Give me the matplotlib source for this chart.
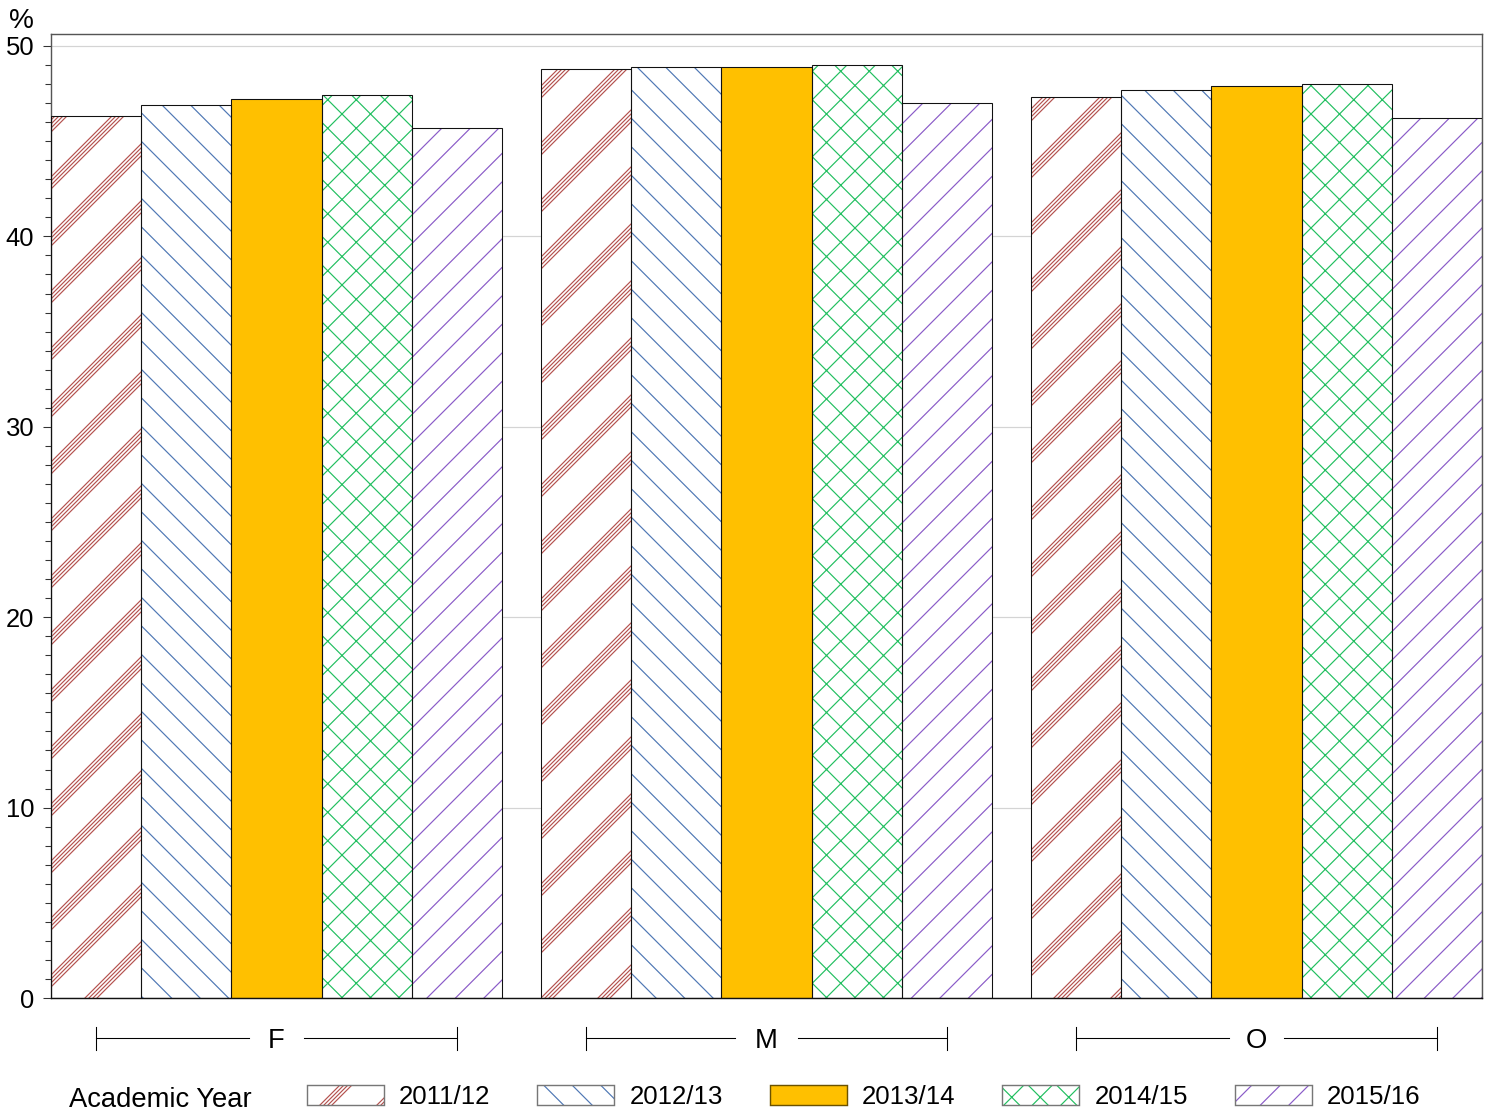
import warnings
warnings.filterwarnings("ignore")
import numpy as np
import matplotlib
matplotlib.use("Agg")
import matplotlib.pyplot as plt
import matplotlib.hatch as mhatch
from matplotlib.path import Path
from matplotlib.patches import Patch
from matplotlib.legend_handler import HandlerTuple
from matplotlib.transforms import blended_transform_factory
from matplotlib import font_manager

# ---------------- data ----------------
groups = ["F", "M", "O"]
years = ["2011/12", "2012/13", "2013/14", "2014/15", "2015/16"]
v2011_12 = [46.3, 48.8, 47.3]
v2012_13 = [46.9, 48.9, 47.7]
v2013_14 = [47.2, 48.9, 47.9]
v2014_15 = [47.4, 49.0, 48.0]
v2015_16 = [45.7, 47.0, 46.2]
series = [v2011_12, v2012_13, v2013_14, v2014_15, v2015_16]
y_ticks = [0, 10, 20, 30, 40, 50]

DPI = 171


# custom hatch: bands of 4 thin diagonal lines
class BandHatch(mhatch.HatchPatternBase):
    def __init__(self, hatch, density):
        n = hatch.count("r")
        self.cs = []
        if n:
            nb = 3 * n
            offs = [0, 4 / DPI, 8 / DPI, 12 / DPI]
            for j in range(-nb, 2 * nb):
                for o in offs:
                    self.cs.append(j / nb + o)
        self.num_vertices = 2 * len(self.cs)

    def set_vertices_and_codes(self, vertices, codes):
        cs = np.array(self.cs)
        vertices[0::2, 0] = -0.5
        vertices[0::2, 1] = -0.5 - cs
        vertices[1::2, 0] = 1.5
        vertices[1::2, 1] = 1.5 - cs
        codes[0::2] = Path.MOVETO
        codes[1::2] = Path.LINETO


mhatch._hatch_types.append(BandHatch)

plt.rcParams["hatch.linewidth"] = 0.5

names = {f.name for f in font_manager.fontManager.ttflist}
narrow = "Liberation Sans Narrow" if "Liberation Sans Narrow" in names else "Liberation Sans"
big = 13 if narrow == "Liberation Sans Narrow" else 11.5
leg_size = 13 if narrow == "Liberation Sans Narrow" else 10.9
regular = "Liberation Sans"

styles = [
    dict(hatch="r", hc="#B5524F", face="white"),
    dict(hatch="\\\\", hc="#4F78B5", face="white"),
    dict(hatch=None, hc=None, face="#FFC000"),
    dict(hatch="xx", hc="#22BF60", face="white"),
    dict(hatch="//", hc="#8A5CC8", face="white"),
]

W, H = 1492, 1114
fig = plt.figure(figsize=(W / DPI, H / DPI), dpi=DPI)
ax = fig.add_axes([51 / W, 1 - 998 / H, (1482 - 51) / W, (998 - 34) / H])

group_gap = 0.432
nser = len(series)
starts = [g * (nser + group_gap) for g in range(len(groups))]

for i, (vals, st) in enumerate(zip(series, styles)):
    xs = [s + i + 0.5 for s in starts]
    if st["hatch"]:
        ax.bar(xs, vals, width=1.0, color=st["face"], edgecolor=st["hc"],
               linewidth=0, hatch=st["hatch"], zorder=2)
    else:
        ax.bar(xs, vals, width=1.0, color=st["face"], linewidth=0, zorder=2)
    ax.bar(xs, vals, width=1.0, fill=False, edgecolor="#111111",
           linewidth=0.45, zorder=3)

ax.set_xlim(0, starts[-1] + nser)
ax.set_ylim(0, 50.63)
ax.set_yticks(y_ticks)
ax.set_yticks(np.arange(0, 51, 1), minor=True)
ax.set_xticks([])
ax.yaxis.grid(True, which="major", color="#d4d4d4", linewidth=0.5)
ax.set_axisbelow(True)
ax.tick_params(axis="y", which="major", length=3.4, width=0.45, color="#333333",
               pad=3.6, labelsize=10.8)
ax.tick_params(axis="y", which="minor", length=2.5, width=0.45, color="#333333")
for lab in ax.get_yticklabels():
    lab.set_fontfamily(regular)
for side in ["top", "right", "left"]:
    ax.spines[side].set_color("#555555")
    ax.spines[side].set_linewidth(0.6)
ax.spines["bottom"].set_color("#111111")
ax.spines["bottom"].set_linewidth(0.6)

fig.text(9 / W, 1 - 28 / H, "%", fontsize=11.8, family=regular, ha="left", va="baseline")

# group labels with brackets
trans = blended_transform_factory(ax.transData, fig.transFigure)
y_line = 1 - 1038 / H
cap = 11.5 / H
half_gap = 0.31
for g, st0 in zip(groups, starts):
    c = st0 + nser / 2
    x0, x1 = st0 + 0.5, st0 + nser - 0.5
    hg = half_gap + (0.04 if g == "M" else 0)
    ax.plot([x0, c - hg], [y_line, y_line], transform=trans, clip_on=False,
            color="black", lw=0.45)
    ax.plot([c + hg, x1], [y_line, y_line], transform=trans, clip_on=False,
            color="black", lw=0.45)
    for xx in (x0, x1):
        ax.plot([xx, xx], [y_line - cap, y_line + cap], transform=trans,
                clip_on=False, color="black", lw=0.45)
    ax.text(c, y_line, g, transform=trans, ha="center", va="center_baseline",
            fontsize=big, family=narrow)

# legend
fig.text(69 / W, 1 - 1097 / H, "Academic Year", fontsize=big, family=narrow,
         ha="left", va="center_baseline")
handles = []
for st in styles:
    if st["hatch"]:
        hp = Patch(facecolor=st["face"], edgecolor=st["hc"], linewidth=0, hatch=st["hatch"])
        op = Patch(fill=False, edgecolor="#777777", linewidth=0.6)
        handles.append((hp, op))
    else:
        handles.append(Patch(facecolor=st["face"], edgecolor="#6b5200", linewidth=0.6))
fs_px = leg_size * DPI / 72
fig.legend(handles, years, loc="center left",
           bbox_to_anchor=(307 / W, 1 - 1097 / H), ncol=5, frameon=False,
           prop={"family": narrow, "size": leg_size},
           handlelength=77 / fs_px, handleheight=20 / fs_px,
           handletextpad=15 / fs_px, columnspacing=47 / fs_px,
           borderpad=0, borderaxespad=0,
           handler_map={tuple: HandlerTuple(ndivide=1, pad=0)})

fig.savefig("out.png", dpi=DPI)
